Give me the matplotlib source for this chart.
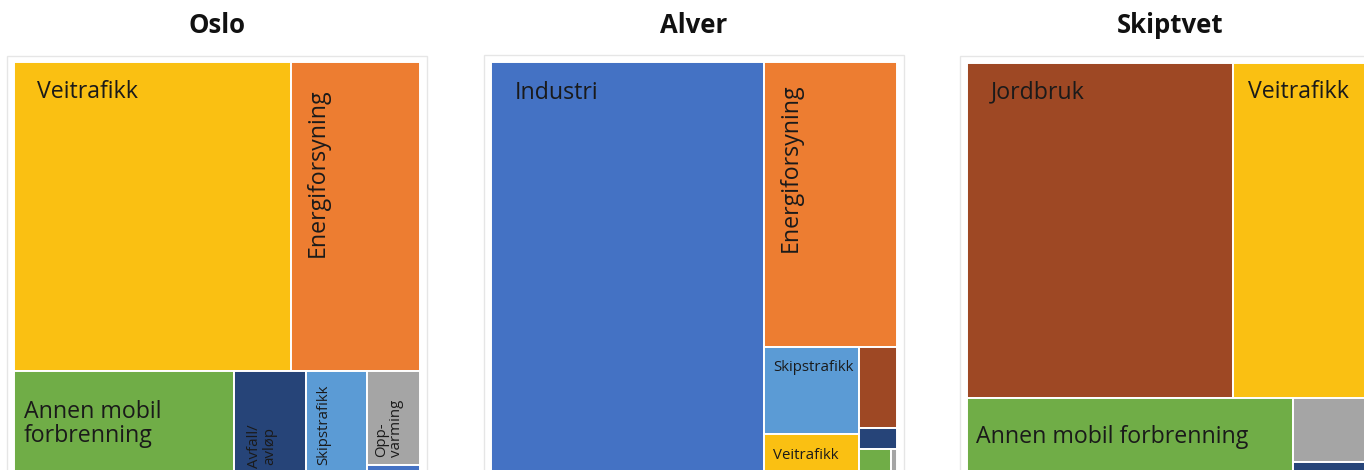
import matplotlib
matplotlib.use('Agg')
import matplotlib.pyplot as plt
from matplotlib.patches import Rectangle

plt.rcParams['font.family'] = ['Open Sans', 'DejaVu Sans']

# utslipp per sektor, tusen tonn CO2-ekv. (lest av figuren)
oslo_sektorer = ['Veitrafikk', 'Energiforsyning', 'Annen mobil forbrenning', 'Avfall og avløp',
                 'Skipstrafikk', 'Oppvarming', 'Industri']
oslo_utslipp = [570.6, 265.7, 148.1, 48.5, 41.4, 32.6, 2.8]

alver_sektorer = ['Industri', 'Energiforsyning', 'Skipstrafikk', 'Veitrafikk', 'Jordbruk',
                  'Avfall og avløp', 'Annen mobil forbrenning', 'Oppvarming']
alver_utslipp = [1865.5, 630.7, 138.5, 60.8, 50.9, 13.6, 12.4, 1.9]

skiptvet_sektorer = ['Jordbruk', 'Veitrafikk', 'Annen mobil forbrenning', 'Oppvarming', 'Avfall og avløp']
skiptvet_utslipp = [17.8, 9.4, 4.9, 1.03, 0.18]

farger = {
    'Veitrafikk': '#FAC012',
    'Energiforsyning': '#ED7D31',
    'Annen mobil forbrenning': '#70AD47',
    'Avfall og avløp': '#264478',
    'Skipstrafikk': '#5B9BD5',
    'Oppvarming': '#A5A5A5',
    'Industri': '#4472C4',
    'Jordbruk': '#9E4824',
}

# hvordan rutene grupperes: ('rad' = langs toppen, 'kolonne' = langs venstre side, antall)
oslo_grupper = [('rad', 2), ('kolonne', 1), ('kolonne', 1), ('kolonne', 1), ('rad', 1), ('rad', 1)]
alver_grupper = [('kolonne', 1), ('rad', 1), ('kolonne', 2), ('rad', 1), ('rad', 1), ('rad', 2)]
skiptvet_grupper = [('rad', 2), ('kolonne', 1), ('kolonne', 2)]

STOR, LITEN = 16.7, 10.8

# etiketter: sektor -> (tekst, rotasjon, str, dx, dy, ha)
oslo_etiketter = {
    'Veitrafikk': ('Veitrafikk', 0, STOR, 23, 35.5, 'left'),
    'Energiforsyning': ('Energiforsyning', 90, STOR, 33, 26, 'right'),
    'Annen mobil forbrenning': ('Annen mobil\nforbrenning', 0, STOR, 10, 70.7, 'left'),
    'Avfall og avløp': ('Avfall/\navløp', 90, LITEN, 28, 75, 'center'),
    'Skipstrafikk': ('Skipstrafikk', 90, LITEN, 21, 94, 'left'),
    'Oppvarming': ('Opp-\nvarming', 90, LITEN, 33, 86, 'left'),
}
alver_etiketter = {
    'Industri': ('Industri', 0, STOR, 24, 37.3, 'left'),
    'Energiforsyning': ('Energiforsyning', 90, STOR, 33, 21, 'right'),
    'Skipstrafikk': ('Skipstrafikk', 0, LITEN, 9.5, 24.2, 'left'),
    'Veitrafikk': ('Veitrafikk', 0, LITEN, 9.5, 25.3, 'left'),
}
skiptvet_etiketter = {
    'Jordbruk': ('Jordbruk', 0, STOR, 24, 35.3, 'left'),
    'Veitrafikk': ('Veitrafikk', 0, STOR, 15.5, 35.3, 'left'),
    'Annen mobil forbrenning': ('Annen mobil forbrenning', 0, STOR, 9, 44.8, 'left'),
}


def treemap(verdier, grupper, bredde, hoyde):
    skala = bredde * hoyde / sum(verdier)
    areal = [v * skala for v in verdier]
    x, y, w, h = 0.0, 0.0, bredde, hoyde
    ruter = []
    i = 0
    for retning, n in grupper:
        biter = areal[i:i + n]
        tot = sum(biter)
        if retning == 'rad':
            tykk = tot / w
            xx = x
            for a in biter:
                ruter.append((xx, y, a / tykk, tykk))
                xx += a / tykk
            y += tykk
            h -= tykk
        else:
            tykk = tot / h
            yy = y
            for a in biter:
                ruter.append((x, yy, tykk, a / tykk))
                yy += a / tykk
            x += tykk
            w -= tykk
        i += n
    return ruter


FW, FH = 1364, 470
W, H = 406, 410

fig = plt.figure(figsize=(FW / 100, FH / 100), dpi=100)

paneler = [
    ('Oslo', oslo_sektorer, oslo_utslipp, oslo_grupper, oslo_etiketter, 14, 62.5),
    ('Alver', alver_sektorer, alver_utslipp, alver_grupper, alver_etiketter, 490.5, 62),
    ('Skiptvet', skiptvet_sektorer, skiptvet_utslipp, skiptvet_grupper, skiptvet_etiketter, 967, 63),
]

for tittel, sektorer, utslipp, grupper, etiketter, x0, y0 in paneler:
    # ramme rundt panelet
    fig.add_artist(Rectangle(((x0 - 7) / FW, 1 - (y0 - 7 + 600) / FH), (W + 14) / FW, 600 / FH,
                             transform=fig.transFigure, facecolor='none', edgecolor='#e6e6e6', lw=1))
    ax = fig.add_axes([x0 / FW, 1 - (y0 + H) / FH, W / FW, H / FH])
    ax.set_xlim(0, W)
    ax.set_ylim(H, 0)
    ax.axis('off')

    ruter = treemap(utslipp, grupper, W, H)
    for sektor, (rx, ry, rw, rh) in zip(sektorer, ruter):
        ax.add_patch(Rectangle((rx, ry), rw, rh, facecolor=farger[sektor], edgecolor='white', lw=1.4))
        if sektor in etiketter:
            tekst, rot, st, dx, dy, ha = etiketter[sektor]
            va = 'center' if ha == 'center' else 'baseline'
            ax.text(rx + dx, ry + dy, tekst, rotation=rot, rotation_mode='anchor', ha=ha, va=va,
                    fontsize=st, color='#1a1a1a', linespacing=1.0, multialignment=ha if ha != 'right' else 'left')

    fig.text((x0 + W / 2) / FW, 1 - 33.3 / FH, tittel, ha='center', va='baseline',
             fontsize=18.5, fontweight='bold', color='#111111')

fig.savefig('out.png', dpi=100)
